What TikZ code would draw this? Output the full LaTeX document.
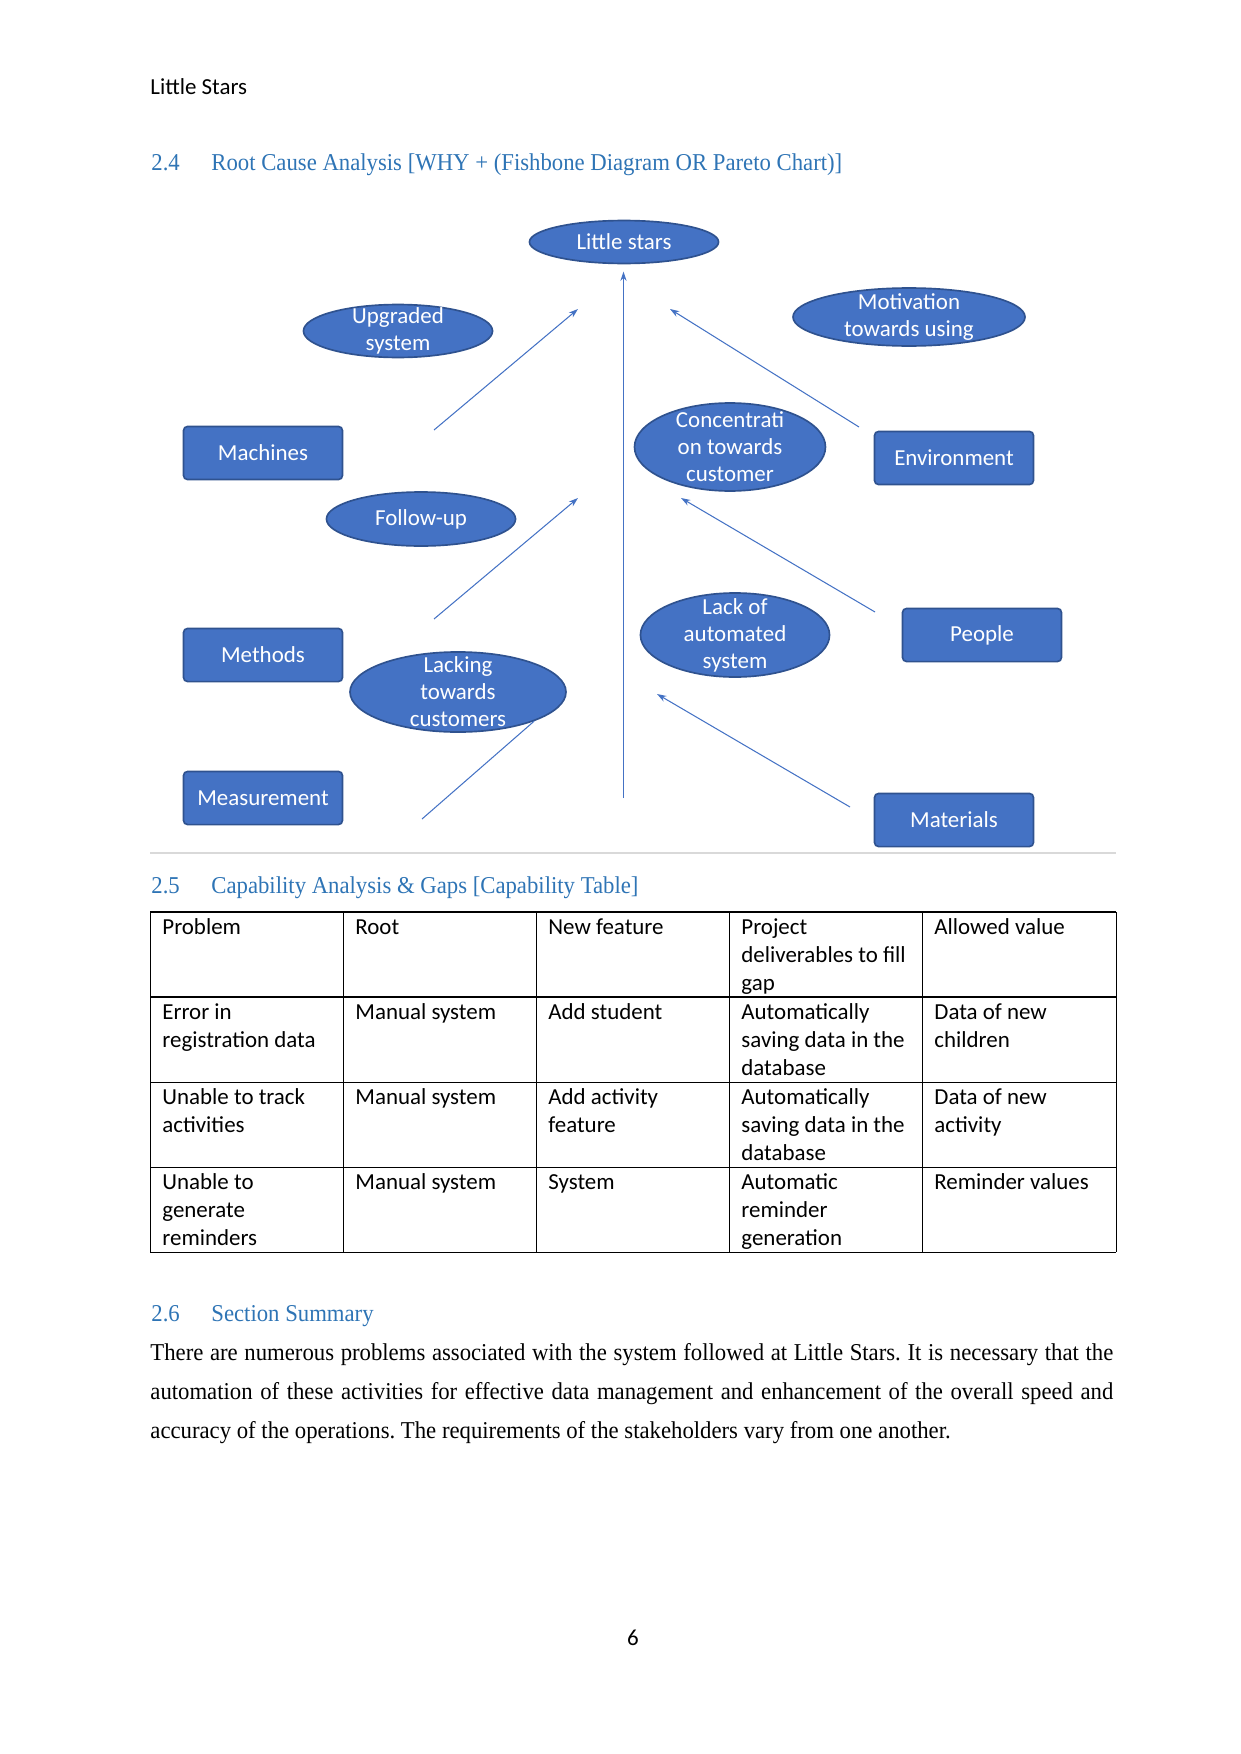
\documentclass[tikz,border=0pt]{standalone}
\usepackage{fontspec}
\usetikzlibrary{shapes.geometric,arrows.meta}
\newfontfamily\calibri{Carlito}
\newfontfamily\bodyserif{Liberation Serif}[FakeStretch=0.94]
\definecolor{headblue}{HTML}{2E74B5}
\definecolor{boxblue}{HTML}{4472C4}
\definecolor{boxedge}{HTML}{2F528F}
\begin{document}
\begin{tikzpicture}[x=0.4797pt, y=-0.4797pt,
    every node/.style={inner sep=0pt},
    cause/.style={draw=boxedge, fill=boxblue, line width=0.8pt, rounded corners=2pt,
      minimum width=76.3pt, minimum height=25.5pt, text=white,
      font=\calibri\fontsize{11}{13}\selectfont},
    bubble/.style={ellipse, draw=boxedge, fill=boxblue, line width=0.8pt},
    bubbletxt/.style={text=white, align=center, font=\calibri\fontsize{11}{13}\selectfont},
    bone/.style={boxblue, line width=0.5pt, -{Stealth[length=4.5pt,width=3pt]}},
    headline/.style={anchor=base west, text=headblue, font=\bodyserif\fontsize{11.6}{14}\selectfont},
    bodyline/.style={anchor=base west, font=\bodyserif\fontsize{11.6}{14}\selectfont\frenchspacing},
    tcell/.style={anchor=north west, text width=88pt, align=left,
      font=\calibri\fontsize{11}{13.43}\selectfont,
      execute at begin node={\spaceskip=0pt \xspaceskip=0pt \strut}},
  ]
    \useasboundingbox (0,0) rectangle (1241,1754);
    % Page header
    \node[anchor=base west, font=\calibri\fontsize{11}{13}\selectfont] (header) at (150,95) {Little Stars};
    \node[headline] (h24) at (151,171) {2.4};
    \node[headline] (h24t) at (211,171) {Root Cause Analysis [WHY + (Fishbone Diagram OR Pareto Chart)]};

    % Fishbone: effect and causes
    \node[bubble, minimum width=90.7pt, minimum height=20.6pt,
      label={[bubbletxt]center:Little stars}] (stars) at (624,242) {};
    \node[bubble, minimum width=90.7pt, minimum height=25.4pt,
      label={[bubbletxt]center:Upgraded\\system}] (upgraded) at (398,331) {};
    \node[bubble, minimum width=111.3pt, minimum height=27.8pt,
      label={[bubbletxt]center:Motivation\\towards using}] (motivation) at (909,317) {};
    \node[bubble, minimum width=91.6pt, minimum height=42.2pt,
      label={[bubbletxt]center:Concentrati\\on towards\\customer}] (concentr) at (730,447) {};
    \node[bubble, minimum width=90.7pt, minimum height=25.9pt,
      label={[bubbletxt]center:Follow-up}] (followup) at (421,519) {};
    \node[bubble, minimum width=103.6pt, minimum height=38.4pt,
      label={[bubbletxt]center:Lacking\\towards\\customers}] (lacking) at (458,692) {};
    \node[bubble, minimum width=90.7pt, minimum height=40.3pt,
      label={[bubbletxt]center:Lack of\\automated\\system}] (lackauto) at (735,635) {};

    \node[cause] (machines) at (263,453) {Machines};
    \node[cause] (methods) at (263,655) {Methods};
    \node[cause] (measure) at (263,798) {Measurement};
    \node[cause] (environ) at (954,458) {Environment};
    \node[cause] (people) at (982,635) {People};
    \node[cause] (materials) at (954,820) {Materials};

    % Bones
    \coordinate (spinebot) at (623.5,798);
    \coordinate (ml1) at (434,430); \coordinate (ml1e) at (578,309);
    \coordinate (ml2) at (434,619); \coordinate (ml2e) at (578,498);
    \coordinate (ml3) at (422,819);
    \coordinate (mr1) at (859,427); \coordinate (mr1e) at (670,309);
    \coordinate (mr2) at (875,612); \coordinate (mr2e) at (681,498);
    \coordinate (mr3) at (850,807); \coordinate (mr3e) at (657,694);
    \draw[bone, shorten >=3.5pt] (spinebot) -- (spinebot |- stars.south);
    \draw[bone] (ml1) -- (ml1e);
    \draw[bone] (ml2) -- (ml2e);
    \draw[boxblue, line width=0.5pt] (ml3) -- (lacking.-21);
    \draw[bone] (mr1) -- (mr1e);
    \draw[bone] (mr2) -- (mr2e);
    \draw[bone] (mr3) -- (mr3e);
    \draw[black!15, line width=0.6pt] (150,853) -- (1116,853);

    % Capability table
    \node[headline] (h25) at (151,893) {2.5};
    \node[headline] (h25t) at (211,893) {Capability Analysis \& Gaps [Capability Table]};
    \draw[line width=0.9pt] (150,912) -- (1116,912);
    \draw[line width=0.9pt] (150,997) -- (1116,997);
    \foreach \y in {1082,1167,1252}
        \draw[line width=0.45pt] (150,\y) -- (1116,\y);
    \foreach \x in {150,343,536,729,922,1116}
        \draw[line width=0.45pt] (\x,912) -- (\x,1252);

    \node[tcell] (c11) at (162,914) {Problem};
    \node[tcell] (c12) at (355,914) {Root};
    \node[tcell] (c13) at (548,914) {New feature};
    \node[tcell] (c14) at (741,914) {Project\\deliverables to fill\\gap};
    \node[tcell] (c15) at (934,914) {Allowed value};
    \node[tcell] (c21) at (162,999) {Error in\\registration data};
    \node[tcell] (c22) at (355,999) {Manual system};
    \node[tcell] (c23) at (548,999) {Add student};
    \node[tcell] (c24) at (741,999) {Automatically\\saving data in the\\database};
    \node[tcell] (c25) at (934,999) {Data of new\\children};
    \node[tcell] (c31) at (162,1084) {Unable to track\\activities};
    \node[tcell] (c32) at (355,1084) {Manual system};
    \node[tcell] (c33) at (548,1084) {Add activity\\feature};
    \node[tcell] (c34) at (741,1084) {Automatically\\saving data in the\\database};
    \node[tcell] (c35) at (934,1084) {Data of new\\activity};
    \node[tcell] (c41) at (162,1169) {Unable to\\generate\\reminders};
    \node[tcell] (c42) at (355,1169) {Manual system};
    \node[tcell] (c43) at (548,1169) {System};
    \node[tcell] (c44) at (741,1169) {Automatic\\reminder\\generation};
    \node[tcell] (c45) at (934,1169) {Reminder values};

    % Summary
    \node[headline] (h26) at (151,1321) {2.6};
    \node[headline] (h26t) at (211,1321) {Section Summary};
    \node[bodyline] (sum1) at (150,1360) {\makebox[461.9pt][s]{There are numerous problems associated with the system followed at Little Stars. It is necessary that the}};
    \node[bodyline] (sum2) at (150,1399) {\makebox[461.9pt][s]{automation of these activities for effective data management and enhancement of the overall speed and}};
    \node[bodyline] (sum3) at (150,1438) {accuracy of the operations. The requirements of the stakeholders vary from one another.};

    % Page number
    \node[anchor=base, font=\calibri\fontsize{11}{13}\selectfont] (pageno) at (633,1645) {6};
\end{tikzpicture}
\end{document}
